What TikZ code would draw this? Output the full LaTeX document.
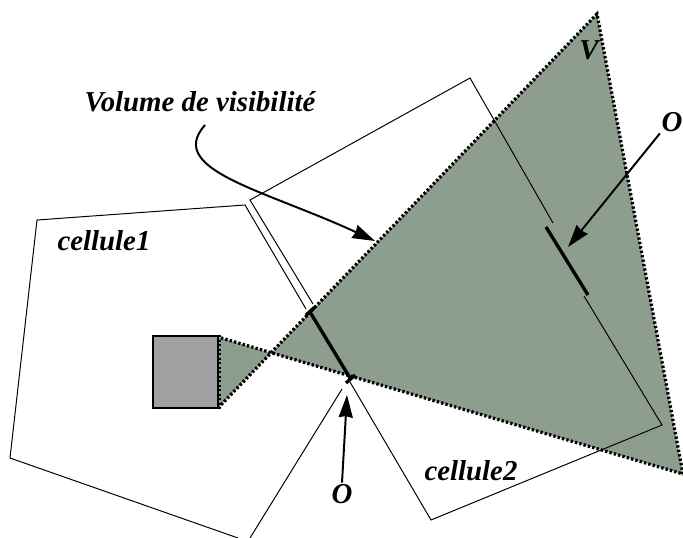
\documentclass[tikz,border=0pt]{standalone}
\usepackage{fontspec}
\setmainfont{Liberation Serif}
\usepackage{xcolor}
\definecolor{volgreen}{RGB}{142,158,142}
\definecolor{occgray}{RGB}{160,160,160}
\usetikzlibrary{arrows.meta,positioning,calc}
\tikzset{
  celledge/.style={draw=black, line width=0.7pt, line join=miter},
  volborder/.style={draw=black, line width=2.3pt, dash pattern=on 1.7pt off 1.5pt},
  occluder/.style={draw=black, line width=2.4pt},
  pointer/.style={draw=black, line width=1.4pt, -{Stealth[length=16pt,width=10pt,inset=1pt]}},
  lab/.style={font=\fontsize{20.5}{22}\selectfont\bfseries\itshape, inner sep=1pt}
}
\begin{document}
\begin{tikzpicture}[x=0.025cm,y=-0.025cm]
  \useasboundingbox (0,0) rectangle (683,538);

  %--- Corners of the volume ---
  \coordinate (vtop) at (597,14);
  \coordinate (vright) at (683,474);
  \coordinate (vcross) at (271,353);
  \coordinate (sqtop) at (218,337);
  \coordinate (sqbot) at (218,408);

  %--- Volume fill ---
  \fill[volgreen] (sqtop) -- (vcross) -- (sqbot) -- cycle;
  \fill[volgreen] (vcross) -- (vtop) -- (vright) -- cycle;

  %--- Cells ---
  \draw[celledge] (306,309) -- (245,205) -- (37,220) -- (10,458) -- (238,538);
  \draw[celledge] (250,538) -- (342,389);
  \draw[celledge] (313,304) -- (250,200) -- (470,78) -- (553,223);
  \draw[celledge] (584,296) -- (662,425) -- (431,520) -- (350,382);

  %--- Volume border ---
  \draw[volborder] (sqbot) -- (vtop) -- (vright) -- (sqtop);

  %--- Source square ---
  \node[draw=black, fill=occgray, line width=1.4pt, minimum width=1.625cm, minimum height=1.8cm, inner sep=0pt] (source) at (185.5,372) {};
  \draw[volborder] (source.north east) -- (source.south east);

  %--- Occluders ---
  \coordinate (porta) at (310,312);
  \coordinate (portb) at (350,378);
  \coordinate (occa) at (546,227);
  \coordinate (occb) at (588,295);
  \draw[occluder] (porta) -- (portb);
  \draw[occluder] (occa) -- (occb);
  \draw[occluder] (306,315) -- (315,307);
  \draw[occluder] (346,383) -- (355,375);

  %--- Labels ---
  \node[lab] (labvol) at (200,102) {Volume de visibilité};
  \node[lab] (labcella) at (104,241) {cellule1};
  \node[lab] (labcellb) at (471,471) {cellule2};
  \node[lab] (labv) at (589,50) {V};
  \node[lab] (labotop) at (672,122) {O};
  \node[lab] (labobot) at (342,494) {O};

  %--- Pointers ---
  \coordinate (voltail) at (205,125);
  \coordinate (voltip) at (375,241);
  \coordinate (otiptop) at (568,247);
  \coordinate (otipbot) at (347,395);
  \draw[pointer] (voltail) .. controls (165,170) and (265,190) .. (voltip);
  \draw[pointer] (labotop.south west) -- (otiptop);
  \draw[pointer] (labobot.north) -- (otipbot);
\end{tikzpicture}
\end{document}
